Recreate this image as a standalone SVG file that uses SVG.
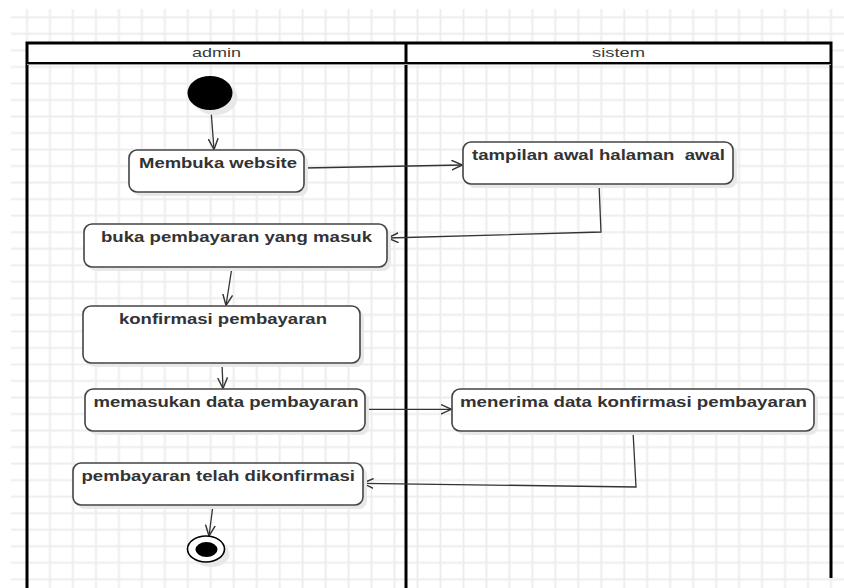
<svg xmlns="http://www.w3.org/2000/svg" width="844" height="588" viewBox="0 0 844 588">
<style>
.lane{stroke:#000;stroke-width:3;fill:none}
.hdr{font-family:"Liberation Sans",Arial,sans-serif;font-size:13.5px;fill:#3a3a3a}
.box{fill:#fff;stroke:#444;stroke-width:1.6}
.shd{fill:#e8e8e8;stroke:none}
.lbl{font-family:"Liberation Sans",Arial,sans-serif;font-size:14.5px;font-weight:bold;fill:#333;white-space:pre}
.con{fill:none;stroke:#333;stroke-width:1.3}
</style>
<defs>
<pattern id="grid" patternUnits="userSpaceOnUse" x="15.53" y="9.035" width="22.97" height="16.53">
<path d="M11.485 0V16.53M0 8.265H22.97" stroke="#ededed" stroke-width="2" fill="none"/>
</pattern>
<marker id="arr" viewBox="0 0 10 10" refX="10" refY="5" markerWidth="11" markerHeight="11" markerUnits="userSpaceOnUse" orient="auto">
<path d="M0,0.5 L10,5 L0,9.5" fill="none" stroke="#333" stroke-width="1.3"/>
</marker>
</defs>
<rect width="844" height="588" fill="#fff"/>
<rect x="11" y="9" width="833" height="579" fill="url(#grid)"/>
<g id="lanes">
<rect x="27" y="43" width="804" height="20" fill="#fff"/>
<path class="lane" d="M27 43H831M27 41.5V588M406 43V588M831 41.5V578"/>
<path d="M27 63H831" stroke="#000" stroke-width="2"/>
<path d="M27 64.5H831" stroke="#999" stroke-width="1"/>
<text class="hdr" x="192" y="57" textLength="49" lengthAdjust="spacingAndGlyphs">admin</text>
<text class="hdr" x="592" y="57" textLength="53" lengthAdjust="spacingAndGlyphs">sistem</text>
</g>
<g id="connectors">
<path class="con" marker-end="url(#arr)" d="M211 110L214 149.5"/>
<path class="con" marker-end="url(#arr)" d="M304 168L462.5 165"/>
<path class="con" marker-end="url(#arr)" d="M599 184L601 232L387.5 238"/>
<path class="con" marker-end="url(#arr)" d="M232 267L226 305.5"/>
<path class="con" marker-end="url(#arr)" d="M222 363.5L223 388.5"/>
<path class="con" marker-end="url(#arr)" d="M365 409.3L451.5 409.3"/>
<path class="con" marker-end="url(#arr)" d="M633 431L636 487L362.5 483.3"/>
<path class="con" marker-end="url(#arr)" d="M213 505L209 536"/>
</g>
<g id="start">
<ellipse class="shd" cx="215" cy="98" rx="22.5" ry="17"/>
<ellipse cx="210" cy="93" rx="22.5" ry="17" fill="#000"/>
</g>
<g id="membuka-website">
<rect class="shd" x="133" y="154" width="175" height="42" rx="8"/>
<rect class="box" x="129" y="150" width="175" height="42" rx="8"/>
<text class="lbl" x="139" y="168" textLength="158" lengthAdjust="spacingAndGlyphs">Membuka website</text>
</g>
<g id="tampilan-awal">
<rect class="shd" x="467" y="146" width="270" height="42" rx="8"/>
<rect class="box" x="463" y="142" width="270" height="42" rx="8"/>
<text class="lbl" x="472" y="159.5" textLength="253" lengthAdjust="spacingAndGlyphs">tampilan awal halaman  awal</text>
</g>
<g id="buka-pembayaran">
<rect class="shd" x="88" y="228" width="303" height="43" rx="8"/>
<rect class="box" x="84" y="224" width="303" height="43" rx="8"/>
<text class="lbl" x="101" y="241.7" textLength="271" lengthAdjust="spacingAndGlyphs">buka pembayaran yang masuk</text>
</g>
<g id="konfirmasi-pembayaran">
<rect class="shd" x="87" y="310" width="277" height="57" rx="8"/>
<rect class="box" x="83" y="306" width="277" height="57" rx="8"/>
<text class="lbl" x="119" y="323.5" textLength="208" lengthAdjust="spacingAndGlyphs">konfirmasi pembayaran</text>
</g>
<g id="memasukan-data">
<rect class="shd" x="89" y="393" width="280" height="42" rx="8"/>
<rect class="box" x="85" y="389" width="280" height="42" rx="8"/>
<text class="lbl" x="93.5" y="406.7" textLength="265" lengthAdjust="spacingAndGlyphs">memasukan data pembayaran</text>
</g>
<g id="menerima-data">
<rect class="shd" x="456" y="393" width="362" height="42" rx="8"/>
<rect class="box" x="452" y="389" width="362" height="42" rx="8"/>
<text class="lbl" x="460" y="406.7" textLength="347" lengthAdjust="spacingAndGlyphs">menerima data konfirmasi pembayaran</text>
</g>
<g id="pembayaran-dikonfirmasi">
<rect class="shd" x="77" y="467" width="290" height="42" rx="8"/>
<rect class="box" x="73" y="463" width="290" height="42" rx="8"/>
<text class="lbl" x="81.5" y="480.7" textLength="273.5" lengthAdjust="spacingAndGlyphs">pembayaran telah dikonfirmasi</text>
</g>
<g id="end">
<ellipse class="shd" cx="211" cy="554" rx="18.5" ry="13"/>
<ellipse cx="206" cy="549" rx="18.5" ry="13" fill="#fff" stroke="#000" stroke-width="1.6"/>
<ellipse cx="206.5" cy="549.5" rx="11" ry="7.5" fill="#000"/>
</g>
</svg>
